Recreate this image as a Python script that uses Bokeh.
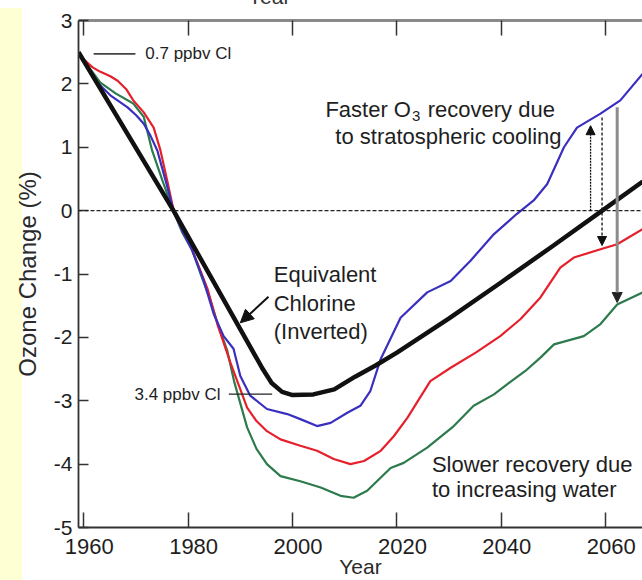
from bokeh.plotting import figure
from bokeh.models import (Range1d, Label, Arrow, NormalHead, Span, Div,
                          LinearAxis, CustomJSTickFormatter)
from bokeh.layouts import column
from bokeh.embed import file_html
from bokeh.resources import INLINE

# ---------------- data ----------------
X_TICKS = [1960, 1980, 2000, 2020, 2040, 2060]
Y_TICKS = [-5, -4, -3, -2, -1, 0, 1, 2, 3]

EC_YEAR = [1959.0, 1977.2, 1994.3, 1996.0, 1998.0, 2000.0, 2004.0, 2008.0, 2012.0,
           2016.0, 2020.0, 2030.0, 2040.0, 2050.0, 2060.0, 2067.1]
EC_VAL = [2.50, 0.00, -2.50, -2.72, -2.86, -2.91, -2.90, -2.82, -2.62,
          -2.44, -2.24, -1.70, -1.13, -0.55, 0.04, 0.46]

BLUE_YEAR = [1959.0, 1960.9, 1962.6, 1965.1, 1968.4, 1970.1, 1971.5, 1972.8, 1974.1,
             1975.7, 1977.3, 1978.9, 1980.8, 1983.0, 1984.9, 1986.8, 1988.7, 1990.0,
             1991.9, 1995.1, 1999.0, 2001.5, 2004.7, 2007.3, 2010.5, 2013.0, 2014.9,
             2016.9, 2020.7, 2025.8, 2030.3, 2034.1, 2038.6, 2043.0, 2046.2, 2048.8,
             2052.0, 2054.5, 2059.0, 2062.8, 2067.1]
BLUE_VAL = [2.49, 2.24, 2.02, 1.82, 1.63, 1.50, 1.37, 1.18, 0.95,
            0.47, -0.03, -0.32, -0.63, -1.11, -1.63, -1.98, -2.18, -2.61,
            -2.92, -3.13, -3.21, -3.29, -3.40, -3.35, -3.19, -3.08, -2.85,
            -2.34, -1.69, -1.29, -1.11, -0.79, -0.37, -0.05, 0.16, 0.42,
            1.00, 1.31, 1.53, 1.74, 2.16]

RED_YEAR = [1959.0, 1960.2, 1961.7, 1963.2, 1965.1, 1966.5, 1968.2, 1969.5, 1971.5,
            1973.4, 1974.7, 1976.0, 1977.3, 1978.5, 1979.8, 1981.6, 1983.7, 1985.6,
            1988.1, 1991.3, 1993.1, 1995.1, 1997.7, 2001.5, 2004.7, 2007.9, 2011.1,
            2013.7, 2016.9, 2019.4, 2022.0, 2026.4, 2030.3, 2035.1, 2039.8, 2043.7,
            2047.5, 2051.3, 2053.9, 2059.0, 2062.2, 2067.1]
RED_VAL = [2.49, 2.37, 2.26, 2.19, 2.12, 2.05, 1.91, 1.74, 1.55,
           1.31, 0.95, 0.47, -0.03, -0.24, -0.42, -0.79, -1.23, -1.79,
           -2.40, -3.11, -3.32, -3.48, -3.61, -3.71, -3.79, -3.92, -4.00,
           -3.95, -3.79, -3.56, -3.27, -2.69, -2.48, -2.24, -1.98, -1.71,
           -1.37, -0.90, -0.74, -0.61, -0.53, -0.29]

GREEN_YEAR = [1959.0, 1960.9, 1963.2, 1966.1, 1969.5, 1971.5, 1973.1, 1975.1, 1977.3,
              1978.9, 1980.8, 1982.4, 1984.3, 1985.8, 1987.5, 1988.8, 1991.3, 1993.1,
              1995.1, 1997.7, 2001.5, 2005.4, 2009.2, 2011.7, 2014.3, 2018.8, 2021.3,
              2025.8, 2030.9, 2034.7, 2038.6, 2041.1, 2044.6, 2047.5, 2050.1, 2055.8,
              2059.0, 2062.2, 2067.1]
GREEN_VAL = [2.49, 2.27, 2.02, 1.85, 1.69, 1.48, 0.95, 0.47, -0.03,
             -0.35, -0.63, -1.00, -1.42, -1.82, -2.21, -2.69, -3.42, -3.76,
             -4.00, -4.19, -4.27, -4.37, -4.50, -4.53, -4.42, -4.06, -3.98,
             -3.74, -3.40, -3.08, -2.90, -2.74, -2.53, -2.32, -2.11, -1.98,
             -1.79, -1.48, -1.29]

# ---------------- styling ----------------
FONT = "Liberation Sans"
TXT = "#1e1e1e"
BLUE = "#3b2fc0"
RED = "#e5202b"
GREEN = "#2d7a4c"
BLACK = "#111111"
YELLOW = "#FFFFD4"

bg = ("linear-gradient(to bottom, #ffffff 0px, #ffffff 3px, rgba(255,255,255,0) 3px), "
      "linear-gradient(to right, " + YELLOW + " 0px, " + YELLOW + " 22px, #ffffff 22px)")

p = figure(width=642, height=575,
           x_range=Range1d(1959, 2067.05), y_range=Range1d(-5, 3),
           output_backend="svg", toolbar_location=None,
           min_border_left=78, min_border_right=0,
           min_border_top=15, min_border_bottom=53,
           background_fill_color="white", border_fill_color=None,
           outline_line_color=None, margin=0,
           styles={"background": bg})
p.grid.visible = False

# bottom axis
xa = p.xaxis[0]
xa.ticker = X_TICKS
xa.formatter = CustomJSTickFormatter(code="return '\\u2002' + tick.toString()")
xa.axis_line_color = "#333333"
xa.axis_line_width = 1.8
xa.major_tick_in = 15
xa.major_tick_out = 0
xa.major_tick_line_color = "#333333"
xa.major_tick_line_width = 1.5
xa.minor_tick_line_color = None
xa.major_label_text_font = FONT
xa.major_label_text_font_size = "22px"
xa.major_label_text_color = TXT
xa.major_label_standoff = 6
xa.axis_label = "Year"
xa.axis_label_text_font = FONT
xa.axis_label_text_font_size = "21px"
xa.axis_label_text_font_style = "normal"
xa.axis_label_text_color = "#2a2a2a"
xa.axis_label_standoff = -7

# left axis
ya = p.yaxis[0]
ya.ticker = Y_TICKS
ya.formatter = CustomJSTickFormatter(code="return tick.toString()")
ya.axis_line_color = "#333333"
ya.axis_line_width = 1.8
ya.major_tick_in = 10
ya.major_tick_out = 0
ya.major_tick_line_color = "#333333"
ya.major_tick_line_width = 1.5
ya.minor_tick_line_color = None
ya.major_label_text_font = FONT
ya.major_label_text_font_size = "21px"
ya.major_label_text_color = TXT
ya.major_label_standoff = 6
ya.axis_label = "Ozone Change (%)"
ya.axis_label_text_font = FONT
ya.axis_label_text_font_size = "24px"
ya.axis_label_text_font_style = "normal"
ya.axis_label_text_color = "#2a2a2a"
ya.axis_label_standoff = 10

# top axis: ticks only
top = LinearAxis(ticker=X_TICKS, formatter=CustomJSTickFormatter(code="return ''"),
                 axis_line_color="#8a8a8a", axis_line_width=3,
                 major_tick_in=15, major_tick_out=0, major_label_standoff=0,
                 major_tick_line_color="#333333", major_tick_line_width=1.5,
                 minor_tick_line_color=None, major_label_text_font_size="1px")
p.add_layout(top, "above")

# zero line
p.add_layout(Span(location=0, dimension="width", line_color="#222222",
                  line_width=1.3, line_dash="4 2"))

# curves
p.line(GREEN_YEAR, GREEN_VAL, line_color=GREEN, line_width=2.2)
p.line(RED_YEAR, RED_VAL, line_color=RED, line_width=2.2)
p.line(BLUE_YEAR, BLUE_VAL, line_color=BLUE, line_width=2.2)
p.line(EC_YEAR, EC_VAL, line_color=BLACK, line_width=4.5)

# leader lines for Cl labels
p.add_layout(Arrow(end=None, x_start=1961.9, y_start=2.474, x_end=1969.9, y_end=2.474,
                   line_color="#444444", line_width=1.8))
p.add_layout(Arrow(end=None, x_start=1987.8, y_start=-2.895, x_end=1996.1, y_end=-2.895,
                   line_color="#222222", line_width=1.3))

def lab(x, y, text, size="22px", align="left", baseline="alphabetic", color=TXT):
    p.add_layout(Label(x=x, y=y, text=text, text_font=FONT, text_font_size=size,
                       text_color=color, text_align=align, text_baseline=baseline))

lab(1971.8, 2.474, "0.7 ppbv Cl", size="17px", baseline="middle")
lab(1986.2, -2.895, "3.4 ppbv Cl", size="17px", align="right", baseline="middle")

lab(1996.4, -1.013, "Equivalent")
lab(1996.4, -1.466, "Chlorine")
lab(1996.4, -1.913, "(Inverted)")

lab(2006.3, 1.589, "Faster O")
lab(2022.9, 1.499, "3", size="15px")
lab(2025.9, 1.589, "recovery due")
lab(2008.2, 1.167, "to stratospheric cooling")

lab(2026.7, -4.003, "Slower recovery due")
lab(2026.7, -4.398, "to increasing water")

# arrows
p.add_layout(Arrow(end=NormalHead(size=13, fill_color=BLACK, line_color=BLACK),
                   x_start=1995.4, y_start=-1.36, x_end=1990.0, y_end=-1.77,
                   line_color=BLACK, line_width=2))
p.add_layout(Arrow(end=NormalHead(size=9, fill_color=BLACK, line_color=BLACK),
                   x_start=2057.1, y_start=0.0, x_end=2057.1, y_end=1.34,
                   line_color=BLACK, line_width=1.3, line_dash="2 1"))
p.add_layout(Arrow(end=NormalHead(size=9, fill_color=BLACK, line_color=BLACK),
                   x_start=2059.3, y_start=1.47, x_end=2059.3, y_end=-0.55,
                   line_color=BLACK, line_width=1.3, line_dash="3 2"))
p.add_layout(Arrow(end=NormalHead(size=10, fill_color="#222222", line_color="#222222"),
                   x_start=2062.2, y_start=1.63, x_end=2062.2, y_end=-1.45,
                   line_color="#8c8c8c", line_width=3))

# cropped axis title of the panel above (only its lowest pixels show)
top_title = Div(text=('<div style="position:relative; left:248px; top:-15px; '
                      "font-family:'Liberation Sans'; font-size:21px; line-height:24px; "
                      'color:#333333; white-space:nowrap;">Year</div>'),
                width=642, height=5, margin=0,
                styles={"overflow": "hidden", "background": "#ffffff"})

layout = column(top_title, p, spacing=0)

open("out.html", "w").write(file_html(layout, INLINE))
